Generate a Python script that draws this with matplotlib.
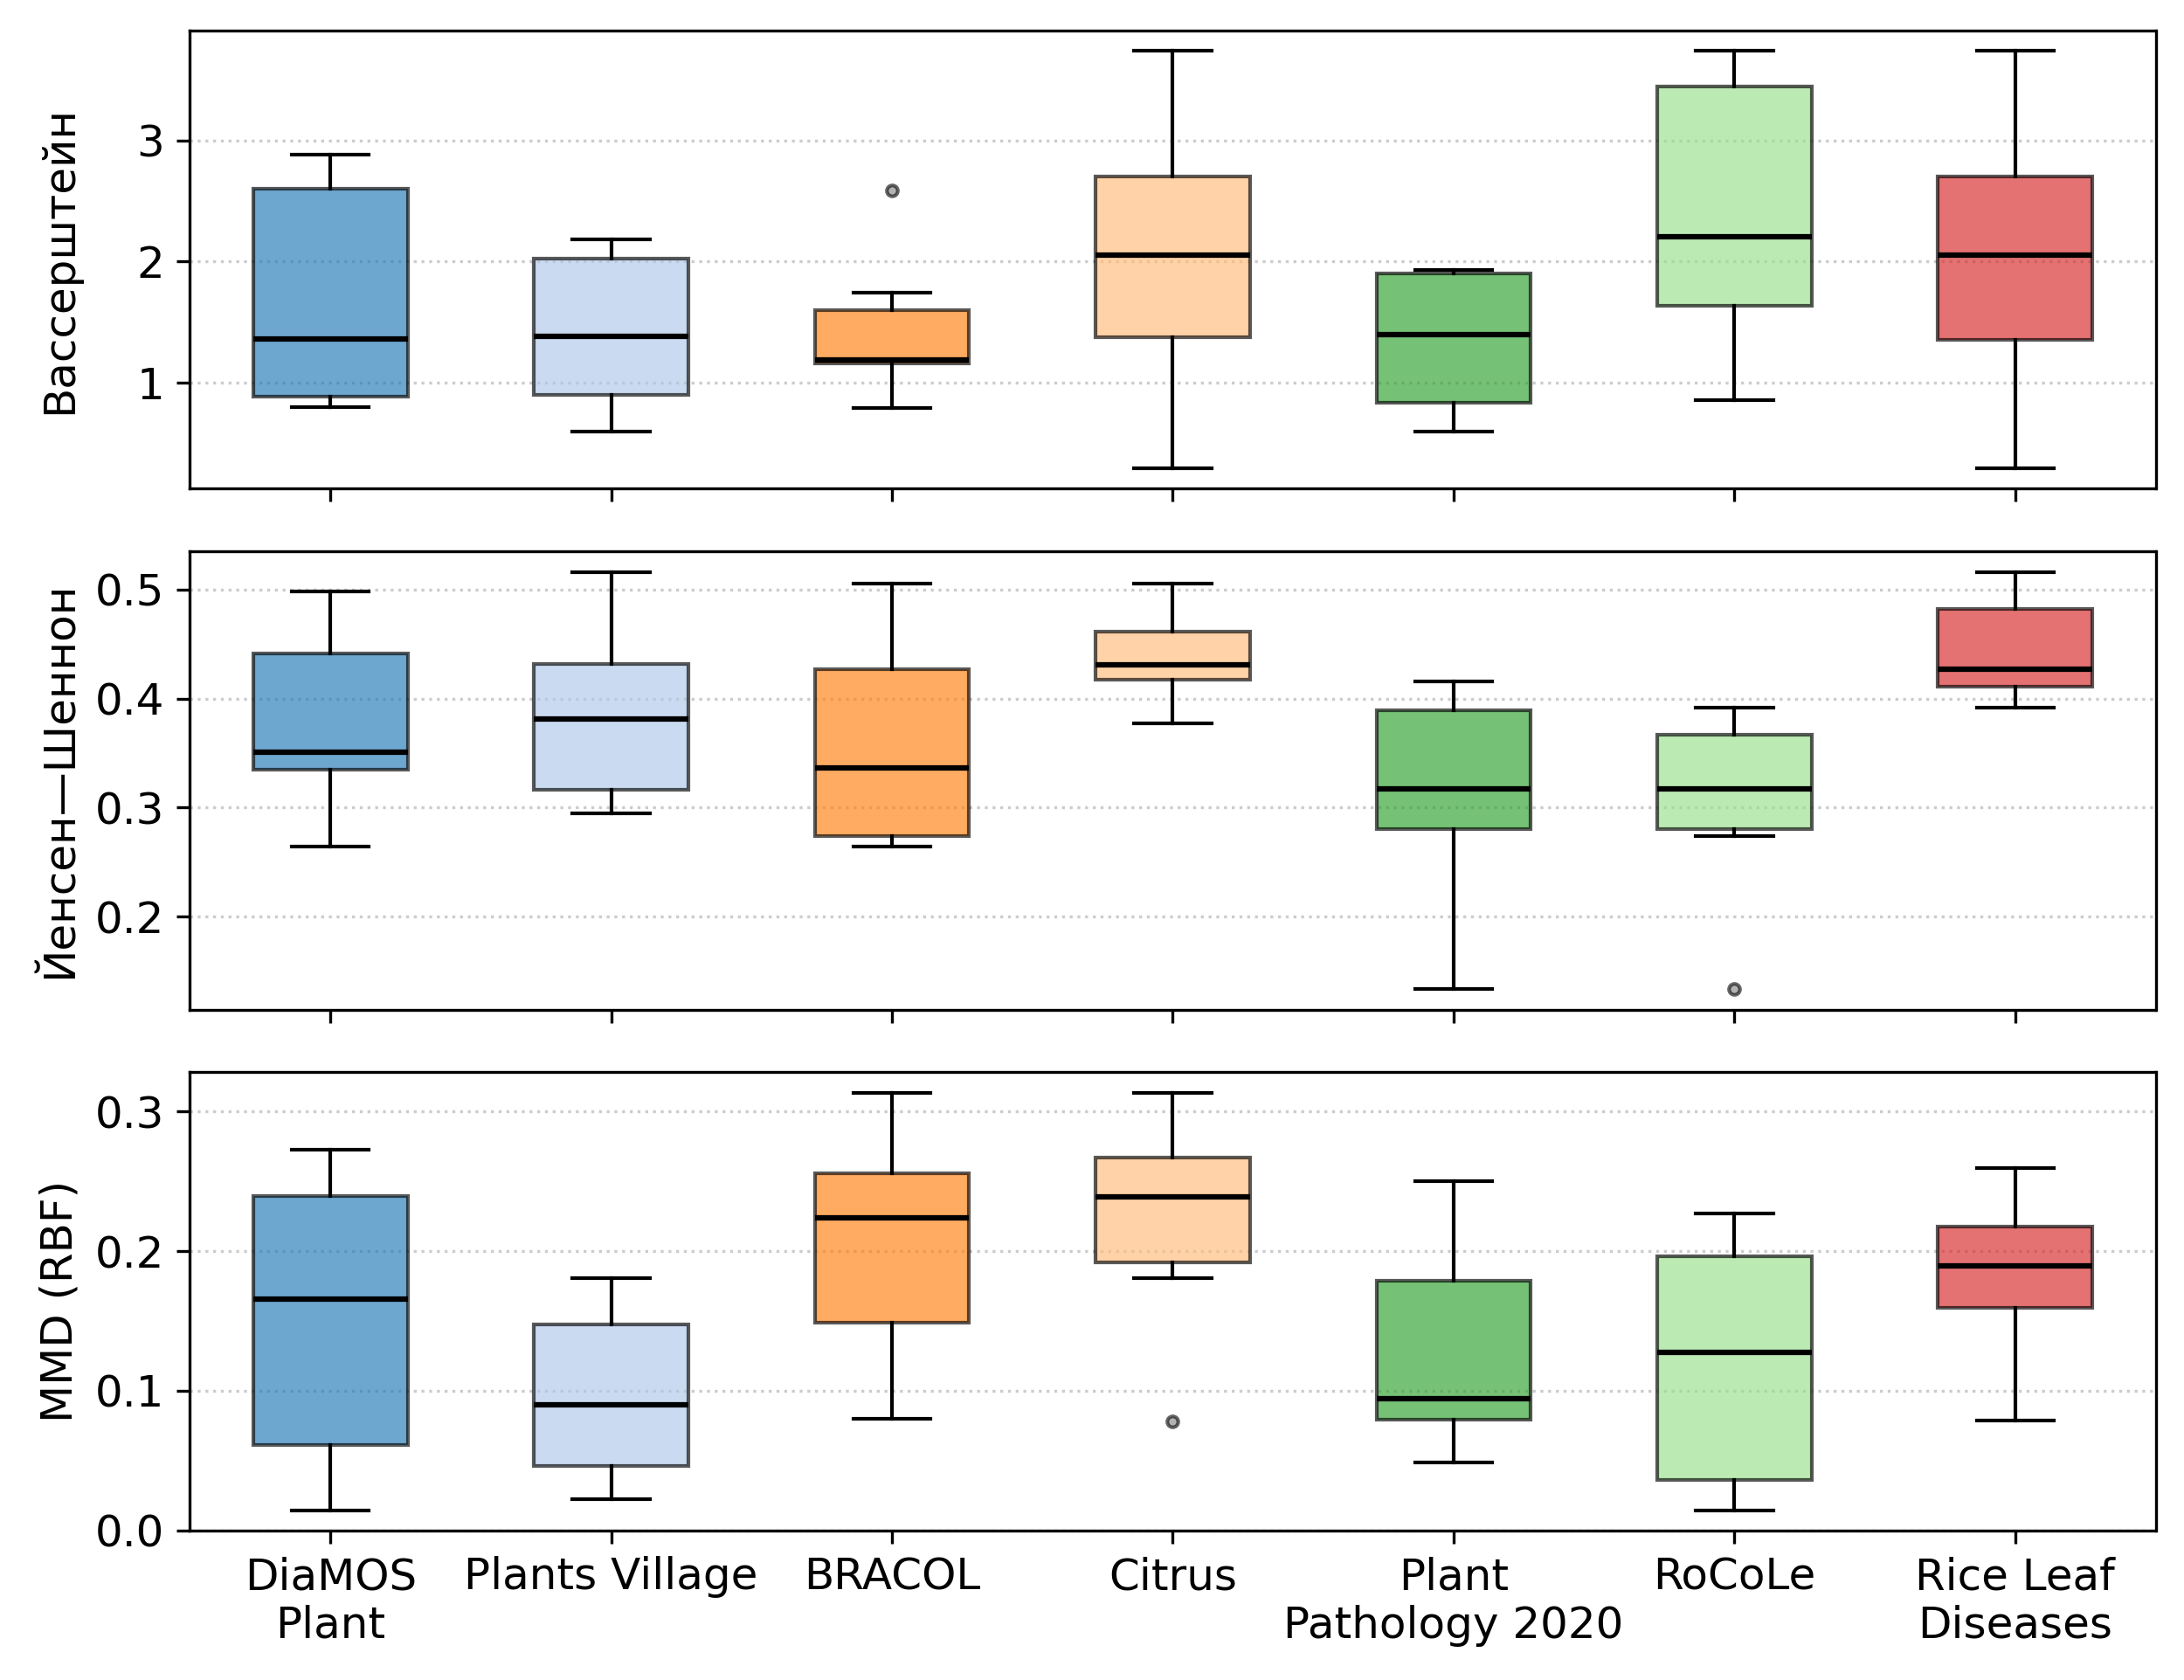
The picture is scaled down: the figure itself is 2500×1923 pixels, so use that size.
import matplotlib
matplotlib.use("Agg")
import matplotlib.pyplot as plt

# названия датасетов (подписи оси X)
datasets = ["DiaMOS\nPlant", "Plants Village", "BRACOL", "Citrus",
            "Plant\nPathology 2020", "RoCoLe", "Rice Leaf\nDiseases"]
colors = ["#1f77b4", "#aec7e8", "#ff7f0e", "#ffbb78",
          "#2ca02c", "#98df8a", "#d62728"]

# Вассерштейн
wass_whislo = [0.796, 0.594, 0.790, 0.298, 0.594, 0.856, 0.298]
wass_q1 = [0.889, 0.898, 1.160, 1.373, 0.834, 1.635, 1.354]
wass_med = [1.359, 1.384, 1.188, 2.055, 1.395, 2.202, 2.055]
wass_q3 = [2.602, 2.022, 1.602, 2.704, 1.898, 3.445, 2.704]
wass_whishi = [2.884, 2.182, 1.740, 3.735, 1.928, 3.735, 3.735]
wass_fliers = [[], [], [2.588], [], [], [], []]

# Йенсен—Шеннон
js_whislo = [0.264, 0.295, 0.264, 0.377, 0.134, 0.274, 0.392]
js_q1 = [0.335, 0.316, 0.274, 0.417, 0.280, 0.280, 0.411]
js_med = [0.351, 0.381, 0.336, 0.431, 0.317, 0.317, 0.427]
js_q3 = [0.441, 0.432, 0.427, 0.461, 0.389, 0.367, 0.482]
js_whishi = [0.498, 0.516, 0.505, 0.505, 0.416, 0.392, 0.516]
js_fliers = [[], [], [], [], [], [0.134], []]

# MMD (RBF)
mmd_whislo = [0.0145, 0.0226, 0.080, 0.1806, 0.049, 0.0145, 0.0786]
mmd_q1 = [0.0612, 0.0464, 0.149, 0.1922, 0.0791, 0.0362, 0.1594]
mmd_med = [0.1655, 0.0901, 0.2238, 0.2386, 0.0942, 0.1278, 0.1896]
mmd_q3 = [0.2394, 0.1475, 0.2557, 0.2667, 0.1786, 0.196, 0.2177]
mmd_whishi = [0.2725, 0.1806, 0.3133, 0.3133, 0.2499, 0.227, 0.2594]
mmd_fliers = [[], [], [], [0.0783], [], [], []]


def make_stats(whislo, q1, med, q3, whishi, fliers):
    return [dict(whislo=a, q1=b, med=c, q3=d, whishi=e, fliers=f)
            for a, b, c, d, e, f in zip(whislo, q1, med, q3, whishi, fliers)]


panels = [
    ("Вассерштейн", make_stats(wass_whislo, wass_q1, wass_med, wass_q3, wass_whishi, wass_fliers)),
    ("Йенсен—Шеннон", make_stats(js_whislo, js_q1, js_med, js_q3, js_whishi, js_fliers)),
    ("MMD (RBF)", make_stats(mmd_whislo, mmd_q1, mmd_med, mmd_q3, mmd_whishi, mmd_fliers)),
]

plt.rcParams["font.size"] = 12

fig, axes = plt.subplots(3, 1, figsize=(2500 / 300, 1923 / 300), dpi=300, sharex=True)
fig.subplots_adjust(left=0.087, right=0.987, top=0.982, bottom=0.089, hspace=0.136)

positions = list(range(1, len(datasets) + 1))
for ax, (label, stats) in zip(axes, panels):
    bp = ax.bxp(stats, positions=positions, widths=0.55, patch_artist=True,
                medianprops=dict(color="black", linewidth=1.5),
                whiskerprops=dict(color="black", linewidth=1.0),
                capprops=dict(color="black", linewidth=1.0),
                flierprops=dict(marker="o", markersize=3, markerfacecolor="gray",
                                markeredgecolor="black", alpha=0.6),
                boxprops=dict(linewidth=1.0))
    for patch, c in zip(bp["boxes"], colors):
        patch.set_facecolor(c)
        patch.set_edgecolor("black")
        patch.set_alpha(0.65)
    ax.set_ylabel(label)
    ax.grid(axis="y", linestyle=":", color="gray", alpha=0.4, linewidth=0.8)
    ax.set_axisbelow(True)

axes[2].set_ylim(bottom=0)
axes[2].set_xticks(positions)
axes[2].set_xticklabels(datasets)
fig.align_ylabels(axes)

fig.savefig("out.png", dpi=300)
